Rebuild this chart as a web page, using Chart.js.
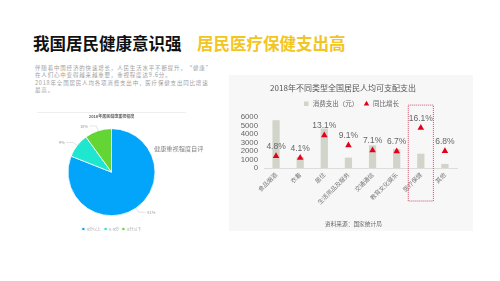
<!DOCTYPE html>
<html>
<head>
<meta charset="utf-8">
<script src="https://cdn.jsdelivr.net/npm/chart.js@4.4.0/dist/chart.umd.min.js"></script>
<style>
  body { margin: 0; width: 500px; height: 281px; background: #fff; position: relative; overflow: hidden;
         font-family: "Noto Sans CJK SC", "Noto Sans", sans-serif; }
  .abs { position: absolute; white-space: nowrap; }
  #title1 { left: 33px; top: 31px; font-size: 16.5px; font-weight: bold; color: #111; }
  #title2 { left: 197px; top: 31px; font-size: 16.5px; font-weight: bold; color: #f2c522; }
  #para { left: 35px; top: 65px; font-size: 5.5px; letter-spacing: 0.82px; color: #a0a0a0; line-height: 6.7px; }
  #para p { margin: 0 0 1.6px 0; }
  #pieLine { left: 37px; top: 112px; width: 149px; height: 1px; background: #eee; }
  #pieCanvas { position: absolute; left: 37px; top: 113px; }
  #pieNote { left: 154px; top: 144px; font-size: 6.2px; color: #888; }
  #panel { position: absolute; left: 229px; top: 75px; width: 244px; height: 156px; background: #f7f7f7; }
  #barCanvas { position: absolute; left: 0; top: 0; }
  #source { left: 96px; top: 144px; font-size: 5.7px; color: #666; }
</style>
</head>
<body>
<div id="title1" class="abs">我国居民健康意识强</div>
<div id="title2" class="abs">居民医疗保健支出高</div>
<div id="para" class="abs">
  <p>伴随着中国经济的快速增长，人民生活水平不断提升，“健康”<br>在人们心中变得越来越重要，重视程度达9.6分。</p>
  <p>2018年全国居民人均各项消费支出中，医疗保健支出同比增速<br>最高。</p>
</div>

<div id="pieLine" class="abs"></div>
<canvas id="pieCanvas" width="149" height="130"></canvas>
<div id="pieNote" class="abs">健康重视程度自评</div>

<div id="panel">
  <canvas id="barCanvas" width="244" height="156"></canvas>
  <div id="source" class="abs">资料来源：国家统计局</div>
</div>

<script>
// pie data
var pieLabels = ['9分以上', '8-9分', '8分以下'];
var pieValues = [81, 9, 10];
var pieColors = ['#02a5fa', '#1ee6cf', '#63d635'];

// bar data
var categories = ['食品烟酒', '衣着', '居住', '生活用品及服务', '交通通信', '教育文化娱乐', '医疗保健', '其他'];
var spending = [5631, 1289, 4647, 1223, 2675, 2226, 1685, 477];
var growth = [4.8, 4.1, 13.1, 9.1, 7.1, 6.7, 16.1, 6.8];

var fontFamily = '"Noto Sans CJK SC", "Liberation Sans", sans-serif';

// labels with leader lines outside the pie
var pieLabelPlugin = {
    id: 'pieLabels',
    afterDatasetsDraw: function(chart) {
        var ctx = chart.ctx;
        var meta = chart.getDatasetMeta(0);
        ctx.save();
        ctx.font = '4px ' + fontFamily;
        ctx.strokeStyle = '#d0d0d0';
        ctx.fillStyle = '#999';
        ctx.lineWidth = 0.6;
        ctx.textBaseline = 'middle';
        meta.data.forEach(function(arc, i) {
            var mid = (arc.startAngle + arc.endAngle) / 2;
            var r = arc.outerRadius;
            var x1 = arc.x + Math.cos(mid) * r, y1 = arc.y + Math.sin(mid) * r;
            var x2 = arc.x + Math.cos(mid) * (r + 5), y2 = arc.y + Math.sin(mid) * (r + 5);
            var dir = Math.cos(mid) >= 0 ? 1 : -1;
            var x3 = x2 + dir * 7;
            ctx.beginPath();
            ctx.moveTo(x1, y1);
            ctx.lineTo(x2, y2);
            ctx.lineTo(x3, y2);
            ctx.stroke();
            ctx.textAlign = dir > 0 ? 'left' : 'right';
            ctx.fillText(pieValues[i] + '%', x3 + dir * 1.5, y2);
        });
        ctx.restore();
    }
};

new Chart(document.getElementById('pieCanvas').getContext('2d'), {
    type: 'pie',
    data: {
        labels: pieLabels,
        datasets: [{
            data: pieValues,
            backgroundColor: pieColors,
            borderColor: '#fff',
            borderWidth: 0.8,
            radius: 43.5
        }]
    },
    options: {
        responsive: false,
        animation: false,
        layout: { padding: { top: 0, bottom: 2 } },
        plugins: {
            title: {
                display: true,
                text: '2018年居民健康重视程度',
                color: '#666',
                font: { size: 4, family: fontFamily },
                padding: { top: 1.5, bottom: 1 }
            },
            legend: {
                position: 'bottom',
                labels: {
                    font: { size: 4, family: fontFamily },
                    color: '#aaa',
                    boxWidth: 3,
                    boxHeight: 3,
                    padding: 3
                }
            },
            tooltip: { enabled: false }
        }
    },
    plugins: [pieLabelPlugin]
});

// percent labels above the triangles + dotted box around 医疗保健
var barExtrasPlugin = {
    id: 'barExtras',
    afterLayout: function(chart) {
        // nudge legend row to the right, like the original
        chart.legend.left += 21;
        chart.legend.right += 21;
    },
    afterDatasetsDraw: function(chart) {
        var ctx = chart.ctx;
        var meta = chart.getDatasetMeta(1);
        ctx.save();
        ctx.font = '8.5px "Liberation Sans", sans-serif';
        ctx.fillStyle = '#666';
        ctx.textAlign = 'center';
        ctx.textBaseline = 'bottom';
        meta.data.forEach(function(pt, i) {
            ctx.fillText(growth[i].toFixed(1) + '%', pt.x, pt.y - 5);
        });

        var xs = chart.scales.x;
        var idx = categories.indexOf('医疗保健');
        var cx = xs.getPixelForValue(idx);
        var half = (xs.getPixelForValue(1) - xs.getPixelForValue(0)) / 2 + 0.5;
        ctx.strokeStyle = '#c8506a';
        ctx.lineWidth = 1;
        ctx.setLineDash([1, 1]);
        ctx.strokeRect(cx - half, chart.chartArea.top - 12, half * 2, chart.chartArea.bottom - chart.chartArea.top + 45);
        ctx.restore();
    }
};

new Chart(document.getElementById('barCanvas').getContext('2d'), {
    type: 'bar',
    data: {
        labels: categories,
        datasets: [{
            label: '消费支出（元）',
            data: spending,
            backgroundColor: '#d0d4c9',
            barPercentage: 0.6,
            categoryPercentage: 0.5,
            pointStyle: 'rect',
            yAxisID: 'y',
            order: 2
        }, {
            type: 'line',
            label: '同比增长',
            data: growth,
            showLine: false,
            pointStyle: 'triangle',
            pointRadius: 3.8,
            backgroundColor: '#e3001b',
            borderColor: '#e3001b',
            borderWidth: 0,
            yAxisID: 'y1',
            order: 1
        }]
    },
    options: {
        responsive: false,
        animation: false,
        layout: { padding: { left: 0, right: 16, top: 0, bottom: 0 } },
        scales: {
            x: {
                grid: { display: false, drawTicks: false },
                border: { display: true, color: '#dcdcdc' },
                ticks: {
                    color: '#777',
                    font: { size: 6, family: fontFamily },
                    maxRotation: 45,
                    minRotation: 45,
                    padding: 3,
                    autoSkip: false
                },
                afterFit: function(scale) { scale.height = 63; }
            },
            y: {
                min: 0,
                max: 6000,
                grid: { display: false, drawTicks: false },
                border: { display: false },
                ticks: {
                    stepSize: 1000,
                    autoSkip: false,
                    color: '#666',
                    font: { size: 7.8, family: '"Liberation Sans", sans-serif' },
                    padding: 6,
                    callback: function(v) { return String(v); }
                },
                afterFit: function(scale) { scale.width = 35; }
            },
            y1: {
                min: 0,
                max: 20.4,
                display: false
            }
        },
        plugins: {
            title: {
                display: true,
                text: '2018年不同类型全国居民人均可支配支出',
                color: '#555',
                font: { size: 8, weight: 'normal', family: fontFamily },
                padding: { top: 8, bottom: 3 }
            },
            legend: {
                labels: {
                    usePointStyle: true,
                    boxHeight: 4.5,
                    color: '#666',
                    font: { size: 6.5, family: fontFamily },
                    padding: 5,
                    sort: function(a, b) { return a.datasetIndex - b.datasetIndex; },
                    generateLabels: function(chart) {
                        var items = Chart.defaults.plugins.legend.labels.generateLabels(chart);
                        // wider gap between the two legend entries
                        items[0].text = items[0].text + '\u3000\u3000\u3000\u3000';
                        return items;
                    }
                }
            },
            tooltip: { enabled: false }
        }
    },
    plugins: [barExtrasPlugin]
});
</script>
</body>
</html>
